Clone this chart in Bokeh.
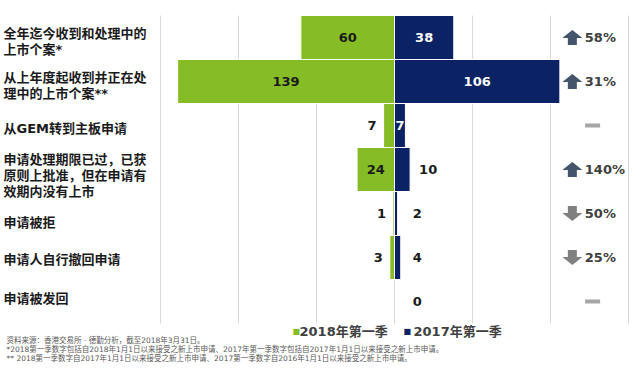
from bokeh.plotting import figure
from bokeh.models import Range1d, Label
from bokeh.embed import file_html
from bokeh.resources import INLINE

# ---------------- data ----------------
categories = [
    "全年迄今收到和处理中的\n上市个案*",
    "从上年度起收到并正在处\n理中的上市个案**",
    "从GEM转到主板申请",
    "申请处理期限已过，已获\n原则上批准，但在申请有\n效期内没有上市",
    "申请被拒",
    "申请人自行撤回申请",
    "申请被发回",
]
q1_2018 = [60, 139, 7, 24, 1, 3, 0]
q1_2017 = [38, 106, 7, 10, 2, 4, 0]
change_text = ["58%", "31%", "", "140%", "50%", "25%", ""]
change_dir = ["up", "up", "flat", "up", "down", "down", "flat"]
series_names = ["2018年第一季", "2017年第一季"]
x_ticks = [-150, -100, -50, 0, 50, 100, 150]
footnotes = [
    "资料来源：香港交易所 · 德勤分析，截至2018年3月31日。",
    "*2018第一季数字包括自2018年1月1日以来接受之新上市申请、2017年第一季数字包括自2017年1月1日以来接受之新上市申请。",
    "** 2018第一季数字自2017年1月1日以来接受之新上市申请、2017第一季数字自2016年1月1日以来接受之新上市申请。",
]

# ---------------- style ----------------
GREEN = "#86bc25"
NAVY = "#0b2265"
UP_C = "#44546a"
DOWN_C = "#808080"
FLAT_C = "#a6a6a6"
GRID_C = "#d9d9d9"
MIX_FONT = "DejaVu Sans, Noto Sans CJK SC"
NUM_FONT = "DejaVu Sans"
green_pos = ["in", "in", "out", "in", "out", "out", "none"]
blue_pos = ["in", "in", "in", "out", "out", "out", "out"]
label_nudge = [4, 4, 3, 6, 9, 2, -3]  # px downwards

W, H = 632, 363
PL, PR, PT, PB = 160, 628, 15, 323  # bar area in pixels
X0, X1 = x_ticks[0], x_ticks[-1]
n = len(categories)
xpx = (X1 - X0) / (PR - PL)
ypx = n / (PB - PT)


def fx(px):  # pixel x -> data x
    return X0 + (px - PL) * xpx


def fy(py):  # pixel y (from top) -> data y
    return (PB - py) * ypx


p = figure(width=W, height=H,
           x_range=Range1d(fx(0), fx(W)), y_range=Range1d(fy(H), fy(0)),
           output_backend="svg", toolbar_location=None,
           x_axis_location=None, y_axis_location=None,
           min_border=0)
p.outline_line_color = None
p.background_fill_color = "white"
p.border_fill_color = "white"
p.xgrid.visible = False
p.ygrid.visible = False

# vertical grid lines over the bar area
p.segment(x0=x_ticks, x1=x_ticks, y0=0, y1=n, line_color=GRID_C, line_width=1)

ys = [n - 0.5 - i for i in range(n)]

gi = [i for i in range(n) if q1_2018[i] > 0]
bi = [i for i in range(n) if q1_2017[i] > 0]
p.hbar(y=[ys[i] for i in gi], left=[-q1_2018[i] for i in gi], right=0, height=1,
       fill_color=GREEN, line_color="white", line_width=1)
p.hbar(y=[ys[i] for i in bi], left=0, right=[q1_2017[i] for i in bi], height=1,
       fill_color=NAVY, line_color="white", line_width=1)


def lab(x, y, text, align="left", font=NUM_FONT, size="13px", color="#1a1a1a", style="bold"):
    p.add_layout(Label(x=x, y=y, text=text, text_align=align, text_baseline="middle",
                       text_font=font, text_font_style=style, text_font_size=size,
                       text_color=color))


for i in range(n):
    g, b = q1_2018[i], q1_2017[i]
    if green_pos[i] == "in":
        lab(-g / 2, ys[i], str(g), "center")
    elif green_pos[i] == "out":
        lab(-g - 7 * xpx, ys[i], str(g), "right")
    if blue_pos[i] == "in":
        lab(b / 2, ys[i], str(b), "center", color="white")
    elif blue_pos[i] == "out":
        lab(max(b, 6) + 9 * xpx, ys[i], str(b), "left")

# change indicators
ARROW_X = 114
TEXT_X = 122
DASH_X = 127
xs_p, ys_p, cols = [], [], []
dash_y = []
shape = [(-4.5, -7.5), (4.5, -7.5), (4.5, -0.5), (10, -0.5), (0, 7.5), (-10, -0.5), (-4.5, -0.5)]
for i in range(n):
    d = change_dir[i]
    if d == "flat":
        dash_y.append(ys[i])
        continue
    s = 1 if d == "up" else -1
    xs_p.append([ARROW_X + dx * xpx for dx, dy in shape])
    ys_p.append([ys[i] + s * dy * ypx for dx, dy in shape])
    cols.append(UP_C if d == "up" else DOWN_C)
    lab(TEXT_X, ys[i], change_text[i], color="#404040")
p.patches(xs=xs_p, ys=ys_p, fill_color=cols, line_color=None)
p.rect(x=[DASH_X] * len(dash_y), y=dash_y, width=15, height=4,
       width_units="screen", height_units="screen", fill_color=FLAT_C, line_color=None)

# category labels
LH = 16
for i, cat in enumerate(categories):
    lines = cat.split("\n")
    m = len(lines)
    for j, line in enumerate(lines):
        off = (j - (m - 1) / 2) * LH + label_nudge[i]
        lab(fx(3), ys[i] - off * ypx, line, font=MIX_FONT)

# legend
for name, col, sq_x, tx_x in [(series_names[0], GREEN, 292, 299), (series_names[1], NAVY, 403, 413)]:
    lab(fx(sq_x), fy(331), "■", font="DejaVu Sans", size="8px", color=col, style="normal")
    lab(fx(tx_x), fy(331), name, font=MIX_FONT, color="#404040")

# footnotes
for k, t in enumerate(footnotes):
    lab(fx(6), fy(340 + 9 * k), t, font=MIX_FONT, size="7.5px", color="#595959", style="normal")

open("out.html", "w").write(file_html(p, INLINE))
